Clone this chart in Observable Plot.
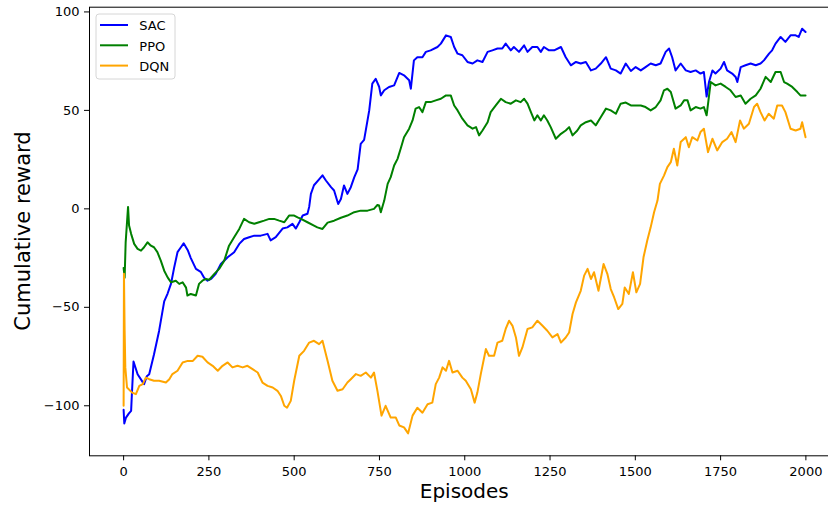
<!DOCTYPE html>
<html><head><meta charset="utf-8">
<script src="https://cdn.jsdelivr.net/npm/d3@7"></script>
<script src="https://cdn.jsdelivr.net/npm/@observablehq/plot@0.6"></script>
<style>html,body{margin:0;padding:0;background:#fff;} svg{display:block;}</style>
</head><body><div id="chart"></div>
<script>
const seriesNames = ["SAC", "PPO", "DQN"];
const seriesColors = ["#0000ff", "#008000", "#ffa500"];
const xTicks = [0, 250, 500, 750, 1000, 1250, 1500, 1750, 2000];
const yTicks = [-100, -50, 0, 50, 100];
const xLabel = "Episodes";
const yLabel = "Cumulative reward";

const sacEp = [0,2,7,15,22,24,29,41,56,60,68,75,89,104,119,129,139,148,158,168,176,188,197,212,226,236,246,256,270,285,305,324,339,353,368,383,402,422,431,446,466,480,495,505,515,525,539,544,549,558,573,583,593,608,617,629,637,646,656,666,676,686,695,705,710,720,729,739,749,754,764,778,793,808,822,837,842,851,861,876,886,900,920,930,945,959,969,979,993,1008,1023,1037,1052,1067,1081,1096,1110,1120,1135,1144,1159,1174,1184,1198,1213,1223,1232,1247,1262,1282,1296,1311,1326,1340,1355,1370,1384,1399,1414,1428,1443,1457,1472,1487,1501,1516,1530,1545,1560,1574,1589,1599,1608,1618,1633,1648,1662,1677,1691,1701,1709,1716,1726,1735,1750,1760,1769,1784,1794,1799,1809,1823,1838,1853,1867,1877,1892,1901,1911,1926,1940,1955,1970,1979,1989,1999];
const sacVal = [-102,-109,-106,-104,-102.6,-95,-77.5,-84,-88,-89,-85,-84,-74,-62,-47,-43,-38,-30,-22,-19.5,-17.5,-21,-25,-30.5,-32,-35,-36.5,-35.6,-33,-28,-24.6,-22,-17.8,-15.3,-14.4,-13.6,-13.6,-12.7,-16,-14.4,-10,-9.4,-7.6,-10,-6.8,-3.4,-2.5,1,7.6,12,15,17,14.4,11,9.3,2.5,5,11.9,7.6,11,16,20,33,35,40,50,63.6,66,62,57.6,60.2,61.9,62.7,69,67.8,65.3,61,75.4,77,77,79.7,80.5,82.2,83.9,88.1,87.3,82.2,78.8,78,74.6,73.8,75.4,74.6,79.7,80.5,81.4,81.4,83.9,80.5,82.2,79.7,83,79.7,82.2,82.2,79.7,82.2,80.5,80.5,82.2,77,72.9,74.6,73.8,74.6,70.3,71.2,73.8,77,71.2,70.3,68.7,73.8,70,72,70.3,72,73.8,72.9,73.8,79.7,81.4,77,70.3,73.8,70.3,69.5,70.3,68.7,69.5,57,64.4,70.3,68.7,71.2,74.6,70.3,68.7,67,64.4,72,72.9,73.8,72.9,73.8,75.4,78.8,80.5,83.9,87.3,84.8,88.1,88.1,87.3,91.5,89.8];

const ppoEp = [0,3,6,13,16,22,31,41,51,60,70,80,89,99,109,119,129,139,153,163,173,183,187,197,212,221,231,241,251,266,280,295,309,324,339,353,368,383,397,412,427,441,456,471,485,500,510,520,539,558,568,583,598,617,637,656,676,695,715,734,744,749,754,764,774,783,793,803,813,822,837,847,856,866,876,886,900,915,930,945,959,969,979,993,1008,1023,1033,1042,1052,1067,1076,1091,1106,1120,1135,1150,1164,1174,1184,1194,1204,1213,1223,1232,1242,1252,1267,1282,1296,1306,1316,1330,1340,1355,1370,1384,1399,1414,1428,1443,1457,1472,1487,1501,1516,1530,1545,1560,1574,1584,1594,1604,1618,1633,1643,1653,1662,1677,1691,1701,1709,1721,1735,1750,1765,1779,1794,1809,1823,1838,1853,1867,1882,1897,1911,1926,1936,1945,1960,1975,1984,1999];
const ppoVal = [-30,-35,-17,1,-8.5,-12.7,-17.8,-20.3,-21.2,-19.5,-17,-18.7,-19.5,-22,-26.3,-31.4,-34.8,-37.3,-36.5,-38.1,-37.3,-40,-44,-43.2,-44,-38.1,-36.5,-35.6,-36,-33,-30.5,-26.3,-18.7,-14.4,-10.2,-5.1,-6.8,-7.6,-6.8,-6,-5.1,-5.1,-6,-6.8,-3.4,-3.4,-4.3,-5.1,-6.8,-8.5,-9.4,-10.2,-7,-6,-4.5,-3.4,-1.7,-0.9,-0.9,0,2,1.7,-1.7,4.2,12.7,16.1,22,25.4,31,36.4,40.7,44.9,50.9,51.7,49.1,54.2,54.2,55.1,55.9,57.6,57.6,52.5,50,45.8,42.4,40.7,41.5,37.3,39.8,44,49.1,52.5,55.9,54.2,53.4,55.1,54.2,55.9,53.4,49.1,44.9,47.5,44.9,47.5,44.9,41.5,35.6,38.1,39.8,41.5,37.3,39.8,42.4,44,44.9,42.4,46.6,50.9,50,48.3,53.4,54,52.5,52.5,52.5,51.7,50,51.7,55.1,60.2,61,59.3,50.9,52.5,55.1,55.1,50,51.7,50.9,51.7,47.5,64.4,62.7,63.6,61.9,60.2,56.8,57.6,53.4,55.9,57.6,61,67,64.4,69.5,69.5,64.4,63.6,61.9,59.3,57.6,57.6];

const dqnEp = [0,1,3,5,10,25,36,46,56,65,75,89,104,124,134,143,158,173,188,203,217,231,246,261,276,290,305,319,334,349,363,378,393,407,422,437,451,461,471,479,490,500,515,529,544,558,573,583,598,612,627,642,656,666,681,695,710,725,734,744,756,768,783,798,808,822,834,847,861,876,891,905,915,925,935,945,954,964,979,993,1003,1018,1029,1037,1047,1062,1071,1086,1096,1110,1120,1130,1140,1150,1159,1169,1184,1198,1213,1228,1242,1257,1272,1282,1296,1306,1316,1326,1340,1350,1360,1370,1379,1392,1407,1418,1428,1438,1450,1462,1469,1481,1493,1503,1514,1524,1535,1545,1555,1565,1572,1584,1594,1604,1613,1623,1633,1648,1657,1667,1682,1691,1701,1713,1726,1740,1755,1769,1782,1794,1807,1818,1833,1848,1857,1867,1879,1891,1906,1916,1930,1940,1955,1970,1984,1989,1999];
const dqnVal = [-100,-33,-62,-80.5,-90.7,-93.3,-94.1,-89.9,-89,-85.7,-86.5,-87.3,-87.3,-88.2,-86.5,-83.9,-82.2,-78,-77.2,-77.2,-74.6,-75.1,-78,-79.7,-82.2,-79.7,-78,-80.5,-79.7,-80.5,-79.7,-81.4,-83.1,-88.2,-89.9,-90.7,-92.4,-95,-100,-101,-97.5,-87.3,-74.6,-72.1,-67.9,-67,-68.7,-67,-77.2,-87.3,-92.4,-91.6,-88.2,-86.5,-83.9,-84.8,-83.1,-85.7,-83.1,-92.4,-105,-100,-106,-106,-110,-111,-114,-105,-101,-103.5,-99.2,-98.4,-89,-85.7,-80.5,-82.2,-77.2,-83.1,-82.2,-85.7,-87.3,-91.6,-98.4,-93.3,-83.9,-71.2,-74.6,-74.6,-67.9,-67,-61,-56.8,-59.4,-65.3,-74.6,-70.4,-61,-60.2,-56.8,-59.4,-61.9,-65.3,-63.6,-67.9,-65.3,-62.8,-53.4,-47.5,-41.6,-33.9,-30.5,-35.6,-32.2,-41.6,-28,-33,-40.7,-45,-50.9,-48.3,-39.9,-43.2,-32.2,-42.4,-38.1,-24.6,-16.1,-9.4,-1.7,4.2,12.7,16.9,21.2,23.7,30.5,22,33.9,36.4,31.3,36.4,34.7,39,40.7,28.8,35.6,29.7,33.9,35.6,39,33.9,44.9,40.7,43.2,51.7,53.4,49.1,44.9,48.3,45.8,52.5,52.5,49.1,40.7,39.8,40.7,44,36.4];

const eps = [sacEp, ppoEp, dqnEp];
const vals = [sacVal, ppoVal, dqnVal];
const rows = seriesNames.flatMap((name, k) => eps[k].map((e, i) => ({episode: e, reward: vals[k][i], series: name})));

const W = 828, H = 506;
const mL = 89, mT = 6.7, mB = 50.7, mR = -11.5;
const fmt = d => d < 0 ? "\u2212" + Math.abs(d) : String(d);

const chart = Plot.plot({
  width: W, height: H,
  marginLeft: mL, marginTop: mT, marginBottom: mB, marginRight: mR,
  style: {fontFamily: "DejaVu Sans", fontSize: "13px", color: "#000", background: "#fff", overflow: "hidden"},
  x: {domain: [-100, 2100], label: null},
  y: {domain: [-125.4, 102.4], label: null},
  color: {domain: seriesNames, range: seriesColors},
  marks: [
    Plot.line(rows, {x: "episode", y: "reward", z: "series", stroke: "series", strokeWidth: 2, strokeLinejoin: "round"}),
    Plot.frame({stroke: "#000", strokeWidth: 1}),
    Plot.axisX({ticks: xTicks, tickFormat: fmt, tickSize: 5, tickPadding: 5.5, fontSize: 13, label: null}),
    Plot.axisY({ticks: yTicks, tickFormat: fmt, tickSize: 5, tickPadding: 5, fontSize: 13, label: null})
  ]
});
document.getElementById("chart").appendChild(chart);

const svg = d3.select(chart);
const fx0 = mL, fx1 = W - mR, fy0 = mT, fy1 = H - mB;
svg.append("text").attr("x", (fx0 + fx1) / 2).attr("y", fy1 + 36.5).attr("dy", "0.32em")
  .attr("text-anchor", "middle").attr("font-family", "DejaVu Sans").attr("font-size", 20).attr("fill", "#000").text(xLabel);
svg.append("text").attr("transform", `translate(23.5,${(fy0 + fy1) / 2}) rotate(-90)`).attr("dy", "0.32em")
  .attr("text-anchor", "middle").attr("font-family", "DejaVu Sans").attr("font-size", 21).attr("fill", "#000").text(yLabel);

const lg = svg.append("g").attr("transform", `translate(${fx0 + 7},${fy0 + 7.3})`).attr("text-anchor", "start");
lg.append("rect").attr("x", 0).attr("y", 0).attr("width", 79).attr("height", 65).attr("rx", 3)
  .attr("fill", "#fff").attr("fill-opacity", 0.8).attr("stroke", "#d6d6d6").attr("stroke-width", 1);
seriesNames.forEach((name, i) => {
  const yy = 11 + i * 20.3;
  lg.append("line").attr("x1", 4).attr("x2", 32).attr("y1", yy).attr("y2", yy).attr("stroke", seriesColors[i]).attr("stroke-width", 2);
  lg.append("text").attr("x", 43.3).attr("y", yy + 5.3).attr("text-anchor", "start").attr("font-family", "DejaVu Sans").attr("font-size", 13).attr("fill", "#000").text(name);
});
</script>
</body></html>
